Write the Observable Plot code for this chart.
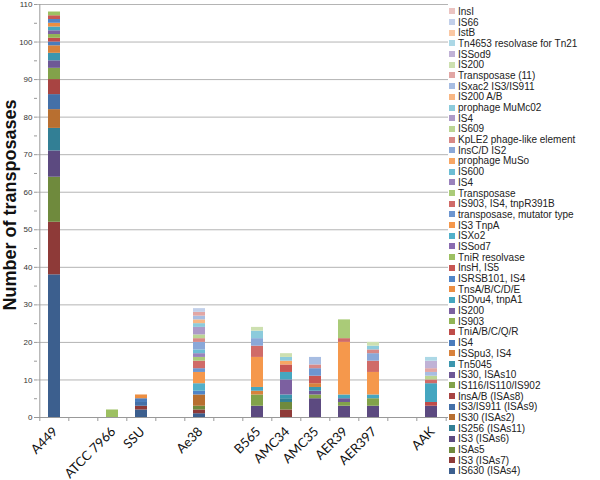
<!DOCTYPE html>
<html><head><meta charset="utf-8">
<script src="https://cdn.jsdelivr.net/npm/d3@7"></script>
<script src="https://cdn.jsdelivr.net/npm/@observablehq/plot@0.6"></script>
<style>
body{margin:0;background:#fff;}
#wrap{position:relative;width:600px;height:480px;overflow:hidden;font-family:"Liberation Sans",Arial,sans-serif;}
#legend{position:absolute;left:449px;top:6px;}
.row{display:flex;align-items:center;height:10.7px;font-size:10px;color:#222;white-space:nowrap;}
.sw{width:6px;height:6px;margin-right:3px;flex:none;}
</style></head><body><div id="wrap"><div id="chart"></div><div id="legend"></div></div>
<script>
// series, bottom of the stack first (legend shows them in reverse)
const seriesNames = ["IS630 (ISAs4)", "IS3 (ISAs7)", "ISAs5", "IS3 (ISAs6)", "IS256 (ISAs11)", "IS30 (ISAs2)",
  "IS3/IS911 (ISAs9)", "InsA/B (ISAs8)", "IS116/IS110/IS902", "IS30, ISAs10", "Tn5045", "ISSpu3, IS4",
  "IS4", "TniA/B/C/Q/R", "IS903", "IS200", "ISDvu4, tnpA1", "TnsA/B/C/D/E",
  "ISRSB101, IS4", "InsH, IS5", "TniR resolvase", "ISSod7", "ISXo2", "IS3 TnpA",
  "transposase, mutator type", "IS903, IS4, tnpR391B", "Transposase", "IS4", "IS600", "prophage MuSo",
  "InsC/D IS2", "KpLE2 phage-like element", "IS609", "IS4", "prophage MuMc02", "IS200 A/B",
  "ISxac2 IS3/IS911", "Transposase (11)", "IS200", "ISSod9", "Tn4653 resolvase for Tn21", "IstB",
  "IS66", "InsI"];
const palette = ["#3c5f8e","#8e3a38","#6f8a3d","#5c4a80","#327f95","#b86f30",
  "#4470a8","#a84442","#82a24a","#6e5896","#3c96ae","#d8823c",
  "#4a7cbc","#bf4c49","#92b455","#7c60a0","#45a6c0","#ec8e42",
  "#5085c8","#c85653","#9dc062","#8a6cb0","#52b0ca","#f5984c",
  "#6d96d0","#d06b68","#aacb78","#9a82bc","#6cbdd4","#f7a664",
  "#8aa8d8","#d88886","#bcd594","#ad9ac8","#8ccbdc","#f8b784",
  "#a7bde2","#e2a6a4","#cde0b0","#c0b2d6","#acd8e6","#fac8a4",
  "#c2d0ea","#ebc4c2"];

// x slots (null = empty slot)
const categories = ["A449", null, "ATCC 7966", "SSU", null, "Ae38", null, "B565", "AMC34", "AMC35", "AER39", "AER397", null, "AAK"];

// [series number, count]
const A449 = [[1,38],[2,14],[3,12],[4,7],[5,6],[6,5],[7,4],[8,4],[9,3],[10,2],[11,2],[12,2],[13,1],[14,1],[15,1],[16,1],[17,1],[18,1],[19,1],[20,1],[21,1]];
const ATCC7966 = [[21,2]];
const SSU = [[1,2],[2,1],[7,1],[13,1],[18,1]];
const Ae38 = [[1,1],[2,1],[3,1],[6,3],[19,1],[23,2],[24,3],[25,1],[26,2],[27,1],[28,1],[29,1],[31,2],[32,1],[33,1],[34,2],[35,1],[36,1],[37,1],[38,1],[43,1]];
const B565 = [[4,3],[9,3],[12,1],[17,1],[24,8],[26,3],[31,2],[35,2],[39,1]];
const AMC34 = [[2,2],[3,2],[5,1],[11,1],[16,4],[17,2],[20,2],[30,1],[35,1],[39,1]];
const AMC35 = [[4,5],[9,1],[10,1],[11,1],[12,1],[20,2],[25,2],[32,1],[37,2]];
const AER39 = [[4,3],[9,1],[10,1],[17,1],[24,14],[26,1],[27,5]];
const AER397 = [[4,3],[9,2],[17,1],[24,6],[26,3],[31,2],[32,1],[35,1],[39,1]];
const AAK = [[4,3],[14,1],[17,5],[26,1],[33,1],[37,1],[38,1],[40,2],[41,1]];
const strainValues = {"A449":A449, "ATCC 7966":ATCC7966, "SSU":SSU, "Ae38":Ae38, "B565":B565, "AMC34":AMC34,
  "AMC35":AMC35, "AER39":AER39, "AER397":AER397, "AAK":AAK};

const yTicks = d3.range(0, 111, 10);

const slots = categories.map((c, i) => c ?? `_gap${i}`);
const labeled = categories.filter(c => c);
const rows = [];
for (const s of labeled) for (const [idx, v] of strainValues[s]) rows.push({strain: s, idx, series: seriesNames[idx-1], value: v});
rows.sort((a, b) => a.idx - b.idx);

const W = 600, H = 480, ML = 37, MR = 152, MT = 4, MB = 63;
const step = (W - ML - MR) / slots.length;

const chart = Plot.plot({
  width: W, height: H, marginLeft: ML, marginRight: MR, marginTop: MT, marginBottom: MB,
  x: {type: "band", domain: slots, paddingInner: 0.59, paddingOuter: 0.295, axis: null},
  y: {domain: [0, 110], axis: null},
  color: {type: "ordinal", domain: d3.range(1, 45), range: palette},
  style: {fontFamily: "Liberation Sans, Arial, sans-serif", background: "white", overflow: "visible"},
  marks: [
    Plot.gridY(yTicks.slice(1), {stroke: "#b4b4b4", strokeOpacity: 1}),
    Plot.axisY(yTicks, {tickSize: 3, tickPadding: 2, fontSize: 8, label: null, stroke: "#999", fill: "#333"}),
    Plot.axisY(d3.range(5, 111, 10), {tickSize: 3, tickFormat: () => "", label: null, stroke: "#999"}),
    Plot.barY(rows, {x: "strain", y: "value", fill: "idx", z: "idx", title: "series"}),
    Plot.ruleY([0], {stroke: "#999"}),
    Plot.ruleX([slots[0]], {x: d => d, dx: -step / 2, stroke: "#999"}),
    Plot.axisX(slots, {tickSize: 4, tickFormat: () => "", dx: -step / 2, stroke: "#999", label: null}),
    Plot.axisX([slots[slots.length - 1]], {tickSize: 4, tickFormat: () => "", dx: step / 2, stroke: "#999", label: null}),
    Plot.axisX(labeled, {tickSize: 0, tickPadding: 4, tickRotate: -45, dx: 1, dy: 8, fontSize: 13, fontFamily: "Lato", fill: "#111", label: null}),
    Plot.text(["Number of transposases"], {frameAnchor: "left", textAnchor: "middle", rotate: -90, dx: -27, dy: -6, fontSize: 18, fontWeight: "bold", fill: "#111"})
  ]
});
document.getElementById("chart").appendChild(chart);

const legend = document.getElementById("legend");
for (let i = seriesNames.length - 1; i >= 0; i--) {
  const row = document.createElement("div");
  row.className = "row";
  const sw = document.createElement("span");
  sw.className = "sw";
  sw.style.background = palette[i];
  const t = document.createElement("span");
  t.textContent = seriesNames[i];
  row.appendChild(sw); row.appendChild(t);
  legend.appendChild(row);
}
</script></body></html>
